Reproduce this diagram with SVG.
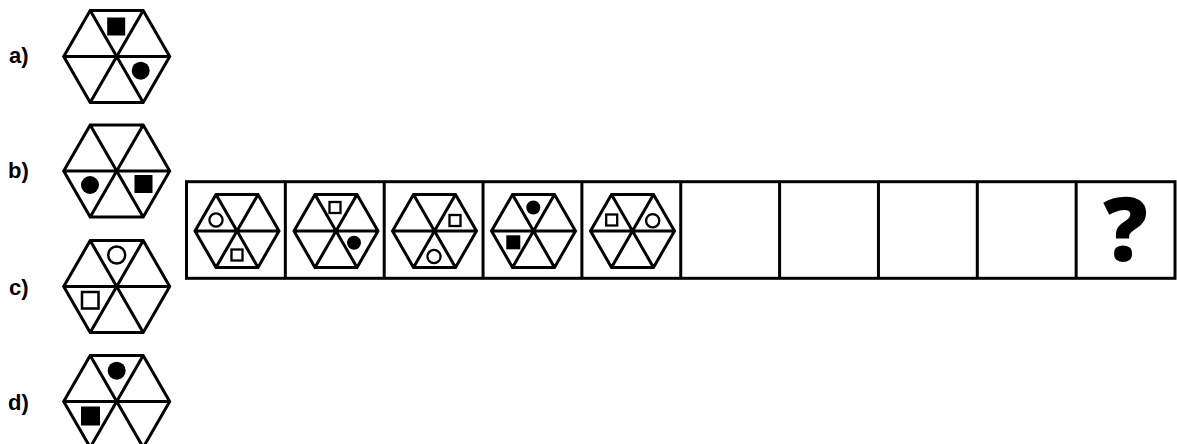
<svg xmlns="http://www.w3.org/2000/svg" xmlns:xlink="http://www.w3.org/1999/xlink" width="1177" height="444" viewBox="0 0 1177 444">
<style>
.hex{fill:none;stroke:#000;stroke-width:3;stroke-linejoin:miter}
.fill{fill:#000;stroke:none}
.open{fill:none;stroke:#000;stroke-width:2.5}
.opens{fill:none;stroke:#000;stroke-width:2.3}
.lbl{font-family:"Liberation Sans",Arial,sans-serif;font-weight:bold;font-size:22px;fill:#000}
.box{fill:#fff;stroke:#000;stroke-width:3}
.div{stroke:#000;stroke-width:3}
.q{font-family:"Open Sans","Liberation Sans",sans-serif;font-weight:800;font-size:88px;fill:#000;text-anchor:middle}
</style>
<defs>
<g id="hexL">
<path class="hex" d="M53 0L26.5 45.9L-26.5 45.9L-53 0L-26.5 -45.9L26.5 -45.9Z M-53 0H53 M-26.5 -45.9L26.5 45.9 M26.5 -45.9L-26.5 45.9"/>
</g>
<g id="hexS">
<path class="hex" d="M42 0L21 36.4L-21 36.4L-42 0L-21 -36.4L21 -36.4Z M-42 0H42 M-21 -36.4L21 36.4 M21 -36.4L-21 36.4"/>
</g>
</defs>
<rect width="1177" height="444" fill="#fff"/>

<g id="option-a">
<text class="lbl" x="9" y="63">a)</text>
<use xlink:href="#hexL" x="116.7" y="56.5"/>
<rect class="fill" x="107.2" y="17.5" width="18" height="18"/>
<circle class="fill" cx="140.7" cy="70.7" r="9"/>
</g>
<g id="option-b">
<text class="lbl" x="8" y="178">b)</text>
<use xlink:href="#hexL" x="116.7" y="171"/>
<circle class="fill" cx="90" cy="185" r="9"/>
<rect class="fill" x="134.5" y="175" width="18" height="18"/>
</g>
<g id="option-c">
<text class="lbl" x="9" y="295">c)</text>
<use xlink:href="#hexL" x="116.7" y="286.5"/>
<circle class="open" cx="116.7" cy="255" r="8.5"/>
<rect class="open" x="82" y="292" width="16.5" height="16.5"/>
</g>
<g id="option-d">
<text class="lbl" x="8" y="410">d)</text>
<use xlink:href="#hexL" x="116.7" y="401.5"/>
<circle class="fill" cx="116.7" cy="370.7" r="9"/>
<rect class="fill" x="81" y="406.5" width="19" height="19"/>
</g>

<g id="sequence">
<rect class="box" x="186.5" y="181.7" width="988.5" height="96.6"/>
<path class="div" d="M285.35 181.7V278.3 M384.2 181.7V278.3 M483.05 181.7V278.3 M581.9 181.7V278.3 M680.75 181.7V278.3 M779.6 181.7V278.3 M878.45 181.7V278.3 M977.3 181.7V278.3 M1076.15 181.7V278.3"/>
</g>

<g id="cell-1">
<use xlink:href="#hexS" x="237" y="231"/>
<circle class="opens" cx="216" cy="220" r="6.6"/>
<rect class="opens" x="231.5" y="249.5" width="11" height="11"/>
</g>
<g id="cell-2">
<use xlink:href="#hexS" x="336" y="231"/>
<rect class="opens" x="329.5" y="202" width="11" height="11"/>
<circle class="fill" cx="354" cy="242.7" r="7"/>
</g>
<g id="cell-3">
<use xlink:href="#hexS" x="434.5" y="231"/>
<rect class="opens" x="449.5" y="215" width="11" height="11"/>
<circle class="opens" cx="434" cy="256.5" r="6.6"/>
</g>
<g id="cell-4">
<use xlink:href="#hexS" x="533.5" y="231"/>
<circle class="fill" cx="533.3" cy="207.5" r="7"/>
<rect class="fill" x="506.3" y="235.3" width="14" height="14"/>
</g>
<g id="cell-5">
<use xlink:href="#hexS" x="632.5" y="231"/>
<rect class="opens" x="606.2" y="214.5" width="11" height="11"/>
<circle class="opens" cx="652.7" cy="220.7" r="6.6"/>
</g>
<g id="cell-10">
<text class="q" x="1125.5" y="261">?</text>
</g>
</svg>
